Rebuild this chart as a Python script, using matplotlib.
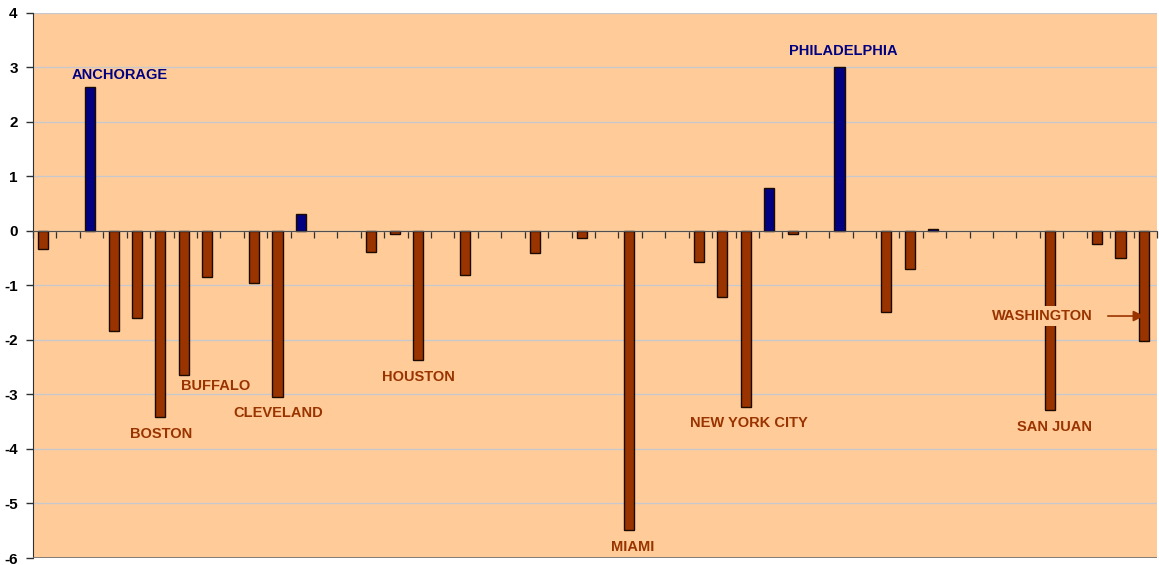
import numpy as np
import matplotlib
matplotlib.use("Agg")
import matplotlib.pyplot as plt

plt.rcParams['font.family'] = ['Liberation Sans', 'DejaVu Sans']

# one slot per city, None where no bar is drawn
values = [-0.33, None, 2.64, -1.83, -1.60, -3.41, -2.64, -0.85, None, -0.95,
          -3.05, 0.31, None, None, -0.39, -0.06, -2.37, None, -0.81, None,
          None, -0.41, None, -0.13, None, -5.49, None, None, -0.57, -1.21,
          -3.23, 0.79, -0.06, None, 3.01, None, -1.49, -0.70, 0.03, None,
          None, None, None, -3.28, None, -0.24, -0.50, -2.02]

labels = ["ANCHORAGE", "PHILADELPHIA", "BOSTON", "BUFFALO", "CLEVELAND",
          "HOUSTON", "MIAMI", "NEW YORK CITY", "SAN JUAN", "WASHINGTON"]
label_x = [3.19, 34.1, 4.98, 7.29, 9.98, 15.95, 25.1, 30.08, 43.14, 42.6]
label_y = [2.86, 3.30, -3.72, -2.84, -3.34, -2.68, -5.80, -3.52, -3.60, -1.56]

y_ticks = [4, 3, 2, 1, 0, -1, -2, -3, -4, -5, -6]

pos_color = "#000080"
neg_color = "#993300"
bg = "#FFCC99"

fig = plt.figure(figsize=(11.59, 5.65), dpi=100)
ax = fig.add_axes([33 / 1159, 7 / 565, 1124 / 1159, 545 / 565])
ax.set_facecolor(bg)

idx = [i for i, v in enumerate(values) if v is not None]
vals = [values[i] for i in idx]
colors = [pos_color if v > 0 else neg_color for v in vals]
ax.bar(np.array(idx) - 0.06, vals, width=0.43, color=colors,
       edgecolor="#1a0a00", linewidth=1.0, zorder=3)

ax.set_xlim(-0.5, len(values) - 0.5)
ax.set_ylim(-6, 4)
ax.set_yticks(y_ticks)
ax.set_yticklabels([str(t) for t in y_ticks], fontsize=11, fontweight="bold")
ax.yaxis.grid(True, color="#C8C8CC", linewidth=1.0, zorder=0)
ax.set_axisbelow(True)

ax.set_xticks(np.arange(-0.5, len(values) + 0.5, 1))
ax.set_xticklabels([])
ax.spines['bottom'].set_position(('data', 0))
ax.spines['bottom'].set_color("#505050")
ax.spines['bottom'].set_zorder(4)
ax.spines['top'].set_visible(False)
ax.spines['right'].set_visible(False)
ax.spines['left'].set_color("#303030")
ax.tick_params(axis='x', direction='out', length=5, width=0.9, color="#303030")
ax.tick_params(axis='y', direction='out', length=5, width=1, color="#303030", pad=6)
ax.axhline(-6, color="#707070", linewidth=1.2, zorder=4)

for name, x, y in zip(labels, label_x, label_y):
    c = pos_color if y > 0 else neg_color
    box = None
    if name == "WASHINGTON":
        box = dict(facecolor=bg, edgecolor="none", pad=2)
    ax.text(x, y, name, ha="center", va="center", fontsize=10.5,
            fontweight="bold", color=c, zorder=5, bbox=box)

ax.annotate("", xy=(46.95, -1.56), xytext=(45.4, -1.56),
            arrowprops=dict(arrowstyle="-|>", color=neg_color, lw=1.2,
                            mutation_scale=16, shrinkA=0, shrinkB=0), zorder=5)

fig.savefig("out.png", dpi=100)
